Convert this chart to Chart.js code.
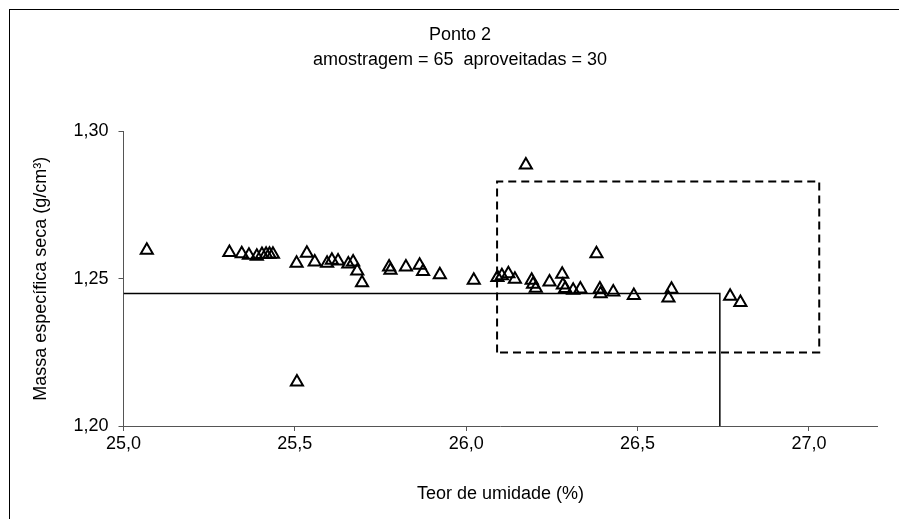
<!DOCTYPE html>
<html>
<head>
<meta charset="utf-8">
<script src="https://cdn.jsdelivr.net/npm/chart.js@4.4.0/dist/chart.umd.min.js"></script>
<style>
  html, body { margin: 0; padding: 0; background: #ffffff; }
  #wrap { width: 899px; height: 519px; position: relative; }
</style>
</head>
<body>
<div id="wrap"><canvas id="c" width="899" height="519"></canvas></div>
<script>
// Moisture content (%) and dry density (g/cm3) of each sample
const moisture = [
  25.068, 25.309, 25.345, 25.366, 25.389, 25.404, 25.416, 25.426, 25.436,
  25.505, 25.535, 25.558, 25.594, 25.608, 25.626, 25.656, 25.670, 25.682, 25.696,
  25.775, 25.779, 25.824, 25.864, 25.874, 25.923,
  26.022, 26.091, 26.104, 26.123, 26.142, 26.174, 26.191, 26.195, 26.203,
  26.243, 26.280, 26.282, 26.289, 26.312, 26.333, 26.380, 26.390, 26.392,
  26.429, 26.489, 26.590, 26.599, 26.770, 26.800, 25.506
];
const density = [
  1.2597, 1.2589, 1.2585, 1.2580, 1.2576, 1.2582, 1.2583, 1.2583, 1.2583,
  1.2553, 1.2587, 1.2557, 1.2553, 1.2563, 1.2560, 1.2550, 1.2557, 1.2526, 1.2486,
  1.2540, 1.2529, 1.2540, 1.2546, 1.2525, 1.2514,
  1.2495, 1.2504, 1.2510, 1.2517, 1.2498, 1.2886, 1.2495, 1.2481, 1.2468,
  1.2489, 1.2515, 1.2479, 1.2467, 1.2461, 1.2465, 1.2585, 1.2465, 1.2449,
  1.2455, 1.2443, 1.2435, 1.2464, 1.2441, 1.2419, 1.2149
];

// Reference density / moisture (solid step line)
const refMoisture = [25.0, 26.74, 26.74];
const refDensity  = [1.245, 1.245, 1.20];

// Acceptance window (dashed rectangle)
const boxMoisture = [26.09, 26.09, 27.03, 27.03, 26.09];
const boxDensity  = [1.225, 1.283, 1.283, 1.225, 1.225];

// Axis ticks
const xTicks = [25.0, 25.5, 26.0, 26.5, 27.0];
const yTicks = [1.20, 1.25, 1.30];

const titleLines = ['Ponto 2', 'amostragem = 65  aproveitadas = 30'];
const xTitle = 'Teor de umidade (%)';
const yTitle = 'Massa específica seca (g/cm³)';

const toPoints = (xs, ys) => xs.map((x, i) => ({ x: x, y: ys[i] }));
const FONT = '"Liberation Sans", Arial, sans-serif';
const FONT_SIZE = 18;

// Outer frame and the two-line heading
const framePlugin = {
  id: 'frame',
  afterDraw(chart) {
    const ctx = chart.ctx;
    ctx.save();
    ctx.strokeStyle = '#000000';
    ctx.lineWidth = 1;
    ctx.strokeRect(9.5, 9.5, 1000, 1000);
    ctx.fillStyle = '#000000';
    ctx.font = FONT_SIZE + 'px ' + FONT;
    ctx.textAlign = 'center';
    ctx.textBaseline = 'middle';
    ctx.fillText(titleLines[0], 460, 35);
    ctx.fillText(titleLines[1], 460, 60);
    ctx.restore();
  }
};

new Chart(document.getElementById('c'), {
  type: 'scatter',
  data: {
    datasets: [
      {
        label: 'amostras',
        data: toPoints(moisture, density),
        pointStyle: 'triangle',
        pointRadius: 7,
        pointHoverRadius: 7,
        borderWidth: 2,
        borderColor: '#000000',
        backgroundColor: 'rgba(0,0,0,0)',
        order: 1
      },
      {
        label: 'referência',
        data: toPoints(refMoisture, refDensity),
        showLine: true,
        borderColor: '#000000',
        borderWidth: 1.5,
        pointRadius: 0,
        pointHoverRadius: 0,
        fill: false,
        tension: 0,
        order: 3
      },
      {
        label: 'faixa',
        data: toPoints(boxMoisture, boxDensity),
        showLine: true,
        borderColor: '#000000',
        borderWidth: 2,
        borderDash: [8, 5],
        pointRadius: 0,
        pointHoverRadius: 0,
        fill: false,
        tension: 0,
        order: 2
      }
    ]
  },
  options: {
    responsive: false,
    animation: false,
    devicePixelRatio: 1,
    layout: { padding: { left: 0, right: 21.5, top: 131.5, bottom: 0 } },
    plugins: {
      legend: { display: false },
      tooltip: { enabled: false },
      title: { display: false }
    },
    scales: {
      x: {
        type: 'linear',
        min: 25.0,
        max: 27.2,
        afterBuildTicks: (scale) => { scale.ticks = xTicks.map(v => ({ value: v })); },
        afterFit: (scale) => { scale.height = 93; scale.paddingLeft = 0; scale.paddingRight = 0; },
        ticks: {
          color: '#000000',
          font: { family: FONT, size: FONT_SIZE },
          padding: 2,
          maxRotation: 0,
          callback: (v) => Number(v).toFixed(1).replace('.', ',')
        },
        grid: { drawOnChartArea: false, drawTicks: true, tickLength: 5, color: '#555555' },
        border: { display: true, color: '#555555', width: 1 },
        title: {
          display: true,
          text: xTitle,
          color: '#000000',
          font: { family: FONT, size: FONT_SIZE },
          padding: { top: 0, bottom: 14 }
        }
      },
      y: {
        type: 'linear',
        min: 1.20,
        max: 1.30,
        afterBuildTicks: (scale) => { scale.ticks = yTicks.map(v => ({ value: v })); },
        afterFit: (scale) => { scale.width = 123.5; scale.paddingTop = 0; scale.paddingBottom = 0; },
        ticks: {
          color: '#000000',
          font: { family: FONT, size: FONT_SIZE },
          padding: 10,
          callback: (v) => Number(v).toFixed(2).replace('.', ',')
        },
        grid: { drawOnChartArea: false, drawTicks: true, tickLength: 5, color: '#555555' },
        border: { display: true, color: '#555555', width: 1 },
        title: {
          display: true,
          text: yTitle,
          color: '#000000',
          font: { family: FONT, size: FONT_SIZE },
          padding: { top: 30, bottom: 0 }
        }
      }
    }
  },
  plugins: [framePlugin]
});
</script>
</body>
</html>
